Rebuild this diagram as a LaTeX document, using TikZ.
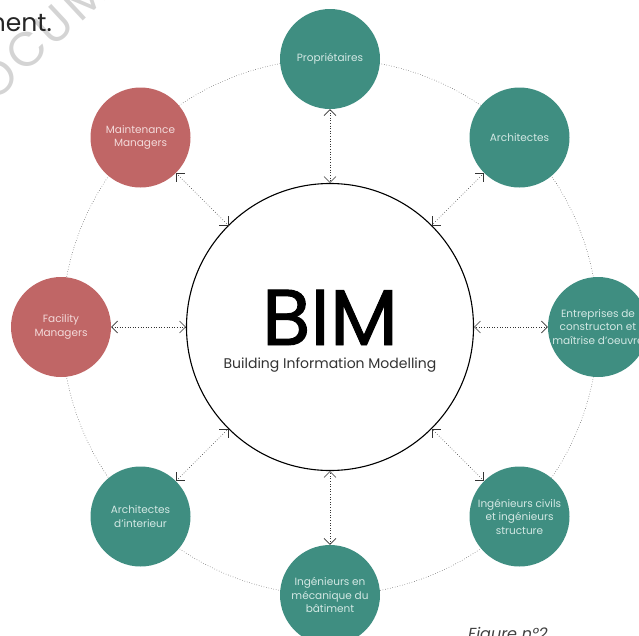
\documentclass[tikz,border=0pt]{standalone}
\usepackage{fontspec}
\setmainfont{Poppins}
\newfontfamily\bimfont[FakeBold=1.2]{Poppins}
\usetikzlibrary{arrows.meta}
\definecolor{tealc}{HTML}{3F8E81}
\definecolor{redc}{HTML}{C06666}
\definecolor{tealtxt}{HTML}{D3E8E4}
\definecolor{redtxt}{HTML}{F3DADA}
\begin{document}
\begin{tikzpicture}[x=1pt,y=-1pt,
  stake/.style={circle,minimum size=100pt,inner sep=0pt,align=center,font=\fontsize{10.5}{13.5}\selectfont},
  tnode/.style={stake,fill=tealc,text=tealtxt},
  rnode/.style={stake,fill=redc,text=redtxt},
  wmark/.style={rotate=43,font=\fontsize{48}{48}\selectfont,text=black!17,inner sep=0pt},
  link/.style={dotted,line width=0.6pt,black!80,{Straight Barb[length=6pt,width=12pt]}-{Straight Barb[length=6pt,width=12pt]}},
]
\useasboundingbox (0,0) rectangle (639,635);
% watermark letters and stray text
\node[wmark] (wmo) at (-3,78) {O};
\node[wmark] (wmc) at (27,50) {C};
\node[wmark] (wmu) at (54,25) {U};
\node[wmark] (wmm) at (84,-3) {M};
\node[anchor=base east,font=\fontsize{25}{25}\selectfont,text=black!85,inner sep=0pt] (ment) at (52,31) {ment.};
\node[anchor=base west,font=\fontsize{16}{16}\selectfont\itshape,text=black!75,inner sep=0pt] (fig) at (468,639) {Figure n°2};
% outer ring
\draw[dotted,black!75,line width=0.5pt] (330,327) circle[radius=268];
% centre
\node[circle,draw,line width=1.1pt,fill=white,minimum size=287pt,inner sep=0pt] (bim) at (330,327) {};
\node[anchor=base,font=\bimfont\fontsize{79}{79}\selectfont,inner sep=0pt] (bimt) at (330,345) {BIM};
\node[anchor=base,font=\fontsize{14}{14}\selectfont,text=black!80,inner sep=0pt] (bimsub) at (330,368) {Building Information Modelling};
% stakeholders
\node[tnode] (n1) at (330,59) {Propriétaires};
\node[tnode] (n2) at (519.5,137.5) {Architectes};
\node[tnode] (n3) at (598,327) {Entreprises de\\constructon et\\maîtrise d’oeuvre};
\node[tnode] (n4) at (519.5,516.5) {Ingénieurs civils\\et ingénieurs\\structure};
\node[tnode] (n5) at (330,595) {Ingénieurs en\\mécanique du\\bâtiment};
\node[tnode] (n6) at (140.5,516.5) {Architectes\\d’interieur};
\node[rnode] (n7) at (61,327) {Facility\\Managers};
\node[rnode] (n8) at (140.5,137.5) {Maintenance\\Managers};
% links
\foreach \n in {n1,n2,n3,n4,n5,n6,n7,n8}
  \draw[link] (\n) -- (bim);
\end{tikzpicture}
\end{document}
